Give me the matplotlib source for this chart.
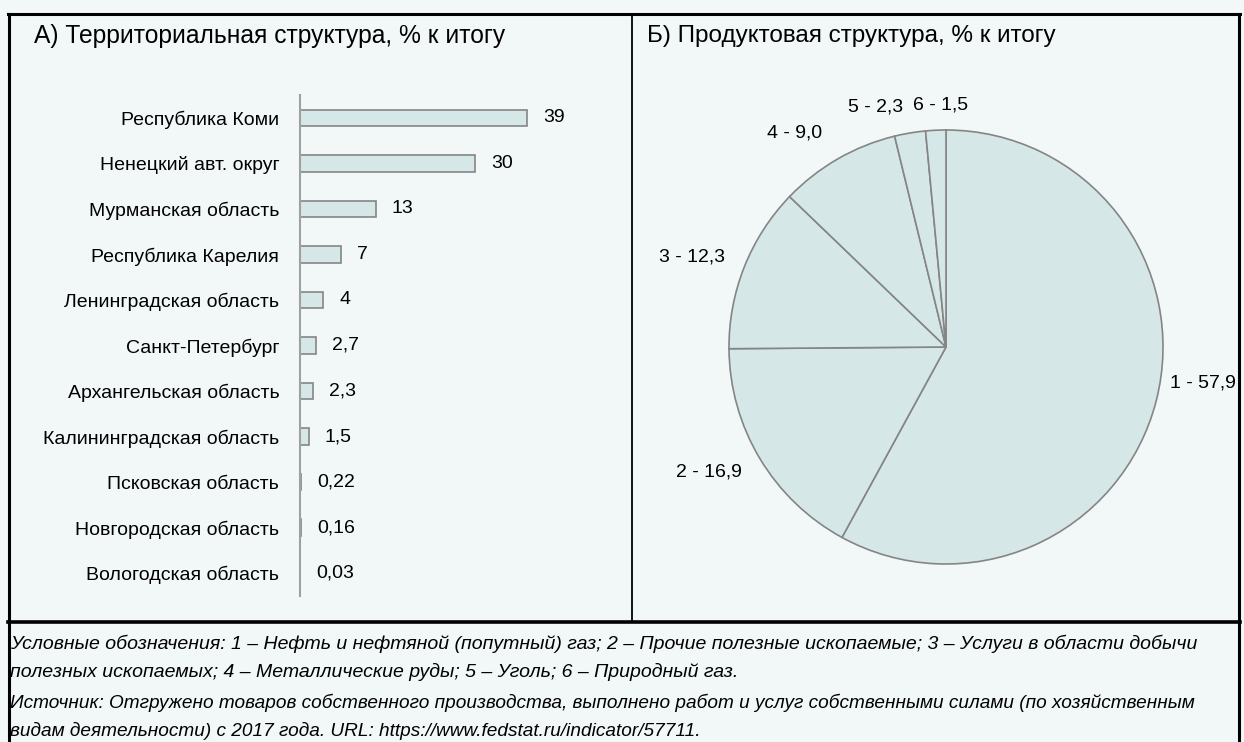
import matplotlib.pyplot as plt
from matplotlib.lines import Line2D

plt.rcParams['font.family'] = ['Liberation Sans', 'DejaVu Sans']

# --- data ---
regions = ["Республика Коми", "Ненецкий авт. округ", "Мурманская область",
           "Республика Карелия", "Ленинградская область", "Санкт-Петербург",
           "Архангельская область", "Калининградская область", "Псковская область",
           "Новгородская область", "Вологодская область"]
region_share = [39, 30, 13, 7, 4, 2.7, 2.3, 1.5, 0.22, 0.16, 0.03]
region_labels = ["39", "30", "13", "7", "4", "2,7", "2,3", "1,5", "0,22", "0,16", "0,03"]

product_codes = ["1", "2", "3", "4", "5", "6"]
product_share = [57.9, 16.9, 12.3, 9.0, 2.3, 1.5]
product_labels = ["57,9", "16,9", "12,3", "9,0", "2,3", "1,5"]

legend_text = ("Условные обозначения: 1 – Нефть и нефтяной (попутный) газ; 2 – Прочие полезные ископаемые; "
               "3 – Услуги в области добычи\nполезных ископаемых; 4 – Металлические руды; 5 – Уголь; 6 – Природный газ.")
source_text = ("Источник: Отгружено товаров собственного производства, выполнено работ и услуг собственными силами "
               "(по хозяйственным\nвидам деятельности) с 2017 года. URL: https://www.fedstat.ru/indicator/57711.")

# where the pie labels sit (in pie radius units) and how they are anchored
pie_label_pos = [(1.03, -0.166, 'left'), (-0.94, -0.576, 'right'), (-1.018, 0.415, 'right'),
                 (-0.571, 0.986, 'right'), (-0.198, 1.106, 'right'), (-0.152, 1.115, 'left')]

BG = '#f2f7f7'
FILL = '#d5e7e7'
EDGE = '#858585'

W, H = 1244, 742
fig = plt.figure(figsize=(W / 100, H / 100), dpi=100)
fig.patch.set_facecolor(BG)


def box(x0, y0, x1, y1):
    # pixel box (top-left origin) -> figure rect
    return [x0 / W, 1 - y1 / H, (x1 - x0) / W, (y1 - y0) / H]


def px(x, y):
    return x / W, 1 - y / H


# frame lines
for (xa, ya), (xb, yb), lw in [((8, 14), (1240, 14), 2.2), ((9, 14), (9, 742), 2.2),
                               ((1239, 14), (1239, 742), 2.2), ((632, 14), (632, 622), 1.3),
                               ((8, 622), (1240, 622), 2.6)]:
    x1, y1 = px(xa, ya)
    x2, y2 = px(xb, yb)
    fig.add_artist(Line2D([x1, x2], [y1, y2], color='black', lw=lw))

fig.text(*px(34, 36), "А) Территориальная структура, % к итогу", fontsize=17.7, va='center', ha='left')
fig.text(*px(647, 36), "Б) Продуктовая структура, % к итогу", fontsize=17.5, va='center', ha='left')

# --- bars ---
ax = fig.add_axes(box(300, 95, 600, 596))
ax.set_facecolor('none')
ypos = list(range(len(regions)))
ax.barh(ypos, region_share, height=0.36, color=FILL, edgecolor=EDGE, linewidth=1.2)
ax.set_xlim(0, 51.5)
ax.set_ylim(len(regions) - 0.5, -0.5)
ax.set_yticks(ypos)
ax.set_yticklabels(regions, fontsize=14)
ax.tick_params(axis='y', length=0, pad=15)
ax.set_xticks([])
for s in ['top', 'right', 'bottom']:
    ax.spines[s].set_visible(False)
ax.spines['left'].set_color('#a0a0a0')
ax.spines['left'].set_linewidth(1.5)
for yv, v, t in zip(ypos, region_share, region_labels):
    ax.annotate(t, (v, yv), xytext=(11.5, 0), textcoords='offset points',
                va='center', ha='left', fontsize=14)

# --- pie ---
r = 217
pax = fig.add_axes(box(946 - r, 347 - r, 946 + r, 347 + r))
pax.set_facecolor('none')
wedges, texts = pax.pie(product_share, labels=[f"{c} - {l}" for c, l in zip(product_codes, product_labels)],
                        startangle=90, counterclock=False,
                        colors=[FILL] * len(product_share),
                        wedgeprops=dict(edgecolor=EDGE, linewidth=1.2),
                        textprops=dict(fontsize=14))
for t, (lx, ly, ha) in zip(texts, pie_label_pos):
    t.set_position((lx, ly))
    t.set_horizontalalignment(ha)
    t.set_verticalalignment('center')
pax.set_xlim(-1, 1)
pax.set_ylim(-1, 1)
pax.set_aspect('equal')

# --- notes ---
fig.text(*px(10, 658), legend_text, fontsize=14, style='italic', va='center', ha='left', linespacing=1.75)
fig.text(*px(10, 717), source_text, fontsize=13.7, style='italic', va='center', ha='left', linespacing=1.7)

fig.savefig('out.png', dpi=100, facecolor=BG)
